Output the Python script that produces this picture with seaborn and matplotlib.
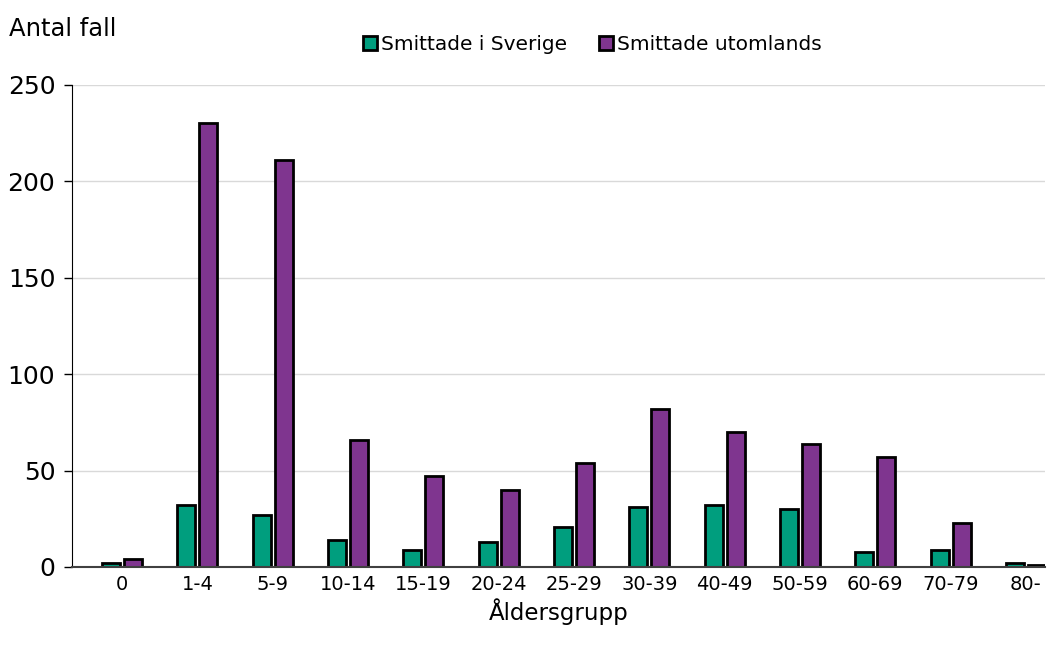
import pandas as pd
import matplotlib.pyplot as plt
import seaborn as sns

# Data
age_groups = ['0', '1-4', '5-9', '10-14', '15-19', '20-24', '25-29',
              '30-39', '40-49', '50-59', '60-69', '70-79', '80-']
sverige = [2, 32, 27, 14, 9, 13, 21, 31, 32, 30, 8, 9, 2]
utomlands = [4, 230, 211, 66, 47, 40, 54, 82, 70, 64, 57, 23, 1]
series_names = ['Smittade i Sverige', 'Smittade utomlands']
colors = ['#009E7E', '#7F358F']

df = pd.DataFrame({
    'Åldersgrupp': age_groups * 2,
    'Antal': sverige + utomlands,
    'Grupp': [series_names[0]] * len(age_groups) + [series_names[1]] * len(age_groups),
})

sns.set_style('white')
plt.rcParams['font.family'] = ['DejaVu Sans']
plt.rcParams['text.color'] = 'black'
plt.rcParams['axes.labelcolor'] = 'black'
plt.rcParams['xtick.color'] = 'black'
plt.rcParams['ytick.color'] = 'black'

fig = plt.figure(figsize=(10.51, 6.53), dpi=100)
ax = fig.add_axes([0.0685, 0.1317, 0.9255, 0.7383])

sns.barplot(data=df, x='Åldersgrupp', y='Antal', hue='Grupp',
            palette=colors, saturation=1, width=0.584, gap=0.18,
            edgecolor='black', linewidth=2, ax=ax)

ax.set_ylim(0, 250)
ax.set_yticks(range(0, 251, 50))
ax.yaxis.grid(True, color='#d9d9d9', linewidth=1)
ax.set_axisbelow(True)
for s in ['top', 'right']:
    ax.spines[s].set_visible(False)
ax.spines['left'].set_color('black')
ax.spines['bottom'].set_color('#404040')
ax.spines['bottom'].set_linewidth(1.5)
ax.tick_params(axis='y', labelsize=18, length=6, width=1, left=True, pad=6)
ax.tick_params(axis='x', labelsize=14, length=0, pad=6)
ax.set_xlim(-0.664, 12.25)

ax.set_ylabel('')
ax.set_xlabel('Åldersgrupp', fontsize=16.5, labelpad=3)
fig.text(0.009, 0.955, 'Antal fall', fontsize=17.5, va='center', ha='left')

handles, labels = ax.get_legend_handles_labels()
ax.legend(handles, labels, loc='center', bbox_to_anchor=(0.535, 1.083),
          ncol=2, frameon=False, fontsize=14.5, handlelength=0.7,
          handleheight=0.7, handletextpad=0.2, columnspacing=1.6)

fig.savefig('out.png', dpi=100)
